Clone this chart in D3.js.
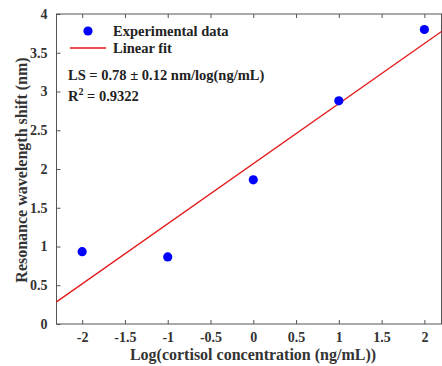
<!DOCTYPE html>
<html><head><meta charset="utf-8">
<script src="https://cdn.jsdelivr.net/npm/d3@7"></script>
<style>body{margin:0;background:#fff}</style>
</head><body><svg id="c" width="442" height="366"></svg>
<script>
const xValues = [-2, -1, 0, 1, 2];
const yValues = [0.933, 0.865, 1.86, 2.88, 3.80];
const xTicks = [-2, -1.5, -1, -0.5, 0, 0.5, 1, 1.5, 2];
const yTicks = [0, 0.5, 1, 1.5, 2, 2.5, 3, 3.5, 4];
const fitSlope = 0.775;
const fitIntercept = 2.068;
const fitRange = [-2.3, 2.2];

const FONT = "Liberation Serif, Times New Roman, serif";
const svg = d3.select("#c");
const x = d3.scaleLinear().domain([-2.3, 2.2]).range([56.5, 441.5]);
const y = d3.scaleLinear().domain([0, 4]).range([324, 14]);
const axCol = "#555";
const txtCol = "#333";

const g = svg.append("g").attr("font-family", FONT).attr("font-weight","bold");
g.append("rect").attr("x", x(-2.3)).attr("y", y(4)).attr("width", x(2.2)-x(-2.3)).attr("height", y(0)-y(4))
 .attr("fill","none").attr("stroke",axCol).attr("stroke-width",1);

const fmt = d => String(d);
const xa = g.append("g").attr("transform",`translate(0,${y(0)})`)
  .call(d3.axisBottom(x).tickValues(xTicks).tickSize(-4).tickPadding(8).tickFormat(fmt));
const ya = g.append("g").attr("transform",`translate(${x(-2.3)},0)`)
  .call(d3.axisLeft(y).tickValues(yTicks).tickSize(-4).tickPadding(9).tickFormat(fmt));
const xt = g.append("g").attr("transform",`translate(0,${y(4)})`)
  .call(d3.axisTop(x).tickValues(xTicks).tickSize(-4).tickFormat(""));
[xa, ya, xt].forEach(a => {
  a.attr("font-family", FONT).attr("font-size", 14).attr("font-weight","bold");
  a.select(".domain").remove();
  a.selectAll("line").attr("stroke", axCol);
  a.selectAll("text").attr("fill", txtCol);
});

g.append("line")
 .attr("x1", x(fitRange[0])).attr("y1", y(fitIntercept + fitSlope*fitRange[0]))
 .attr("x2", x(fitRange[1])).attr("y2", y(fitIntercept + fitSlope*fitRange[1]))
 .attr("stroke","#e31a1c").attr("stroke-width",1.3);

g.selectAll("circle.pt").data(xValues).join("circle").attr("class","pt")
 .attr("cx", (d)=>x(d)).attr("cy", (d,i)=>y(yValues[i])).attr("r",4.6).attr("fill","#0000ff");

g.append("circle").attr("cx",88).attr("cy",31).attr("r",4.6).attr("fill","#0000ff");
g.append("text").attr("x",113).attr("y",36).attr("fill","#222").attr("font-size",14.5).text("Experimental data");
g.append("line").attr("x1",70).attr("x2",106).attr("y1",48).attr("y2",48).attr("stroke","#e31a1c").attr("stroke-width",1.3);
g.append("text").attr("x",113).attr("y",53).attr("fill","#222").attr("font-size",14.5).text("Linear fit");

g.append("text").attr("x",68).attr("y",80).attr("fill","#222").attr("font-size",14.5).text("LS = 0.78 ± 0.12 nm/log(ng/mL)");
const r2 = g.append("text").attr("x",68).attr("y",101).attr("fill","#222").attr("font-size",14.5);
r2.append("tspan").text("R");
r2.append("tspan").attr("dy",-6).attr("font-size",10).text("2");
r2.append("tspan").attr("dy",6).text(" = 0.9322");

g.append("text").attr("x",253).attr("y",360).attr("text-anchor","middle").attr("fill",txtCol).attr("font-size",16)
 .text("Log(cortisol concentration (ng/mL))");
g.append("text").attr("transform","translate(27,170) rotate(-90)").attr("text-anchor","middle").attr("fill",txtCol).attr("font-size",16)
 .text("Resonance wavelength shift (nm)");
</script></body></html>
